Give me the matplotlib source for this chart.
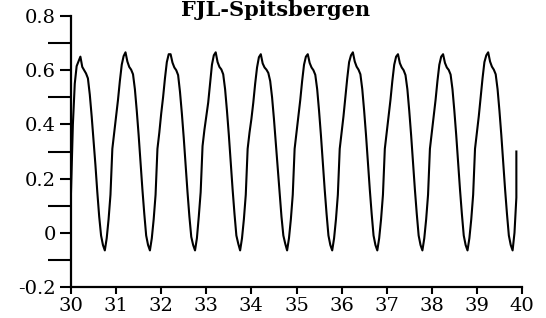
import numpy as np
import matplotlib
matplotlib.use("Agg")
import matplotlib.pyplot as plt
from matplotlib.ticker import FixedLocator

title = "FJL-Spitsbergen"

# hourly values, one list per day (day 30 .. day 39)
day30 = [0.15, 0.40, 0.55, 0.615, 0.632, 0.650, 0.612, 0.600, 0.588, 0.570, 0.510, 0.430,
         0.340, 0.250, 0.150, 0.060, -0.010, -0.045, -0.065, -0.020, 0.050, 0.140, 0.310, 0.370]
day31 = [0.43, 0.49, 0.56, 0.62, 0.652, 0.666, 0.632, 0.612, 0.602, 0.585, 0.53, 0.45,
         0.36, 0.26, 0.16, 0.07, -0.01, -0.045, -0.065, -0.02, 0.05, 0.14, 0.31, 0.37]
day32 = [0.44, 0.50, 0.57, 0.63, 0.659, 0.659, 0.628, 0.610, 0.600, 0.582, 0.52, 0.44,
         0.35, 0.25, 0.15, 0.06, -0.015, -0.045, -0.065, -0.02, 0.06, 0.15, 0.32, 0.38]
day33 = [0.43, 0.48, 0.55, 0.62, 0.655, 0.666, 0.630, 0.612, 0.603, 0.585, 0.53, 0.45,
         0.36, 0.26, 0.16, 0.07, -0.01, -0.04, -0.065, -0.02, 0.05, 0.14, 0.31, 0.37]
day34 = [0.42, 0.48, 0.55, 0.61, 0.648, 0.659, 0.625, 0.610, 0.602, 0.590, 0.560, 0.50,
         0.42, 0.33, 0.24, 0.15, 0.06, -0.01, -0.04, -0.065, -0.02, 0.05, 0.14, 0.31]
day35 = [0.37, 0.43, 0.49, 0.56, 0.62, 0.650, 0.659, 0.627, 0.610, 0.600, 0.583, 0.53,
         0.45, 0.36, 0.26, 0.16, 0.07, -0.01, -0.045, -0.065, -0.02, 0.05, 0.14, 0.31]
day36 = [0.37, 0.43, 0.50, 0.57, 0.63, 0.655, 0.666, 0.632, 0.613, 0.602, 0.585, 0.53,
         0.45, 0.36, 0.26, 0.16, 0.07, -0.01, -0.045, -0.065, -0.02, 0.05, 0.14, 0.31]
day37 = [0.37, 0.43, 0.49, 0.56, 0.62, 0.650, 0.659, 0.626, 0.610, 0.600, 0.582, 0.53,
         0.45, 0.36, 0.26, 0.16, 0.07, -0.01, -0.045, -0.065, -0.02, 0.05, 0.14, 0.31]
day38 = [0.37, 0.43, 0.49, 0.56, 0.62, 0.650, 0.659, 0.627, 0.610, 0.601, 0.584, 0.53,
         0.45, 0.36, 0.26, 0.16, 0.07, -0.01, -0.045, -0.065, -0.02, 0.05, 0.14, 0.31]
day39 = [0.37, 0.43, 0.50, 0.57, 0.63, 0.655, 0.666, 0.632, 0.613, 0.602, 0.585, 0.53,
         0.45, 0.36, 0.26, 0.16, 0.07, -0.01, -0.045, -0.065, 0.00, 0.13]
final_jump = [0.30]   # last sample drawn at the same time as the previous one

start_day = 30
samples_per_day = 24

x_ticks = [30, 31, 32, 33, 34, 35, 36, 37, 38, 39, 40]
x_tick_labels = ["30", "31", "32", "33", "34", "35", "36", "37", "38", "39", "40"]
y_ticks = [-0.2, 0.0, 0.2, 0.4, 0.6, 0.8]
y_tick_labels = ["-0.2", "0", "0.2", "0.4", "0.6", "0.8"]
y_minor_ticks = [-0.1, 0.1, 0.3, 0.5, 0.7]

values = day30 + day31 + day32 + day33 + day34 + day35 + day36 + day37 + day38 + day39
times = start_day + np.arange(len(values)) / samples_per_day
times = np.append(times, [times[-1]] * len(final_jump))
values = values + final_jump

fig = plt.figure(figsize=(5.46, 3.18), dpi=100)
ax = fig.add_axes([71 / 546, 31 / 318, 451 / 546, 271 / 318])

ax.plot(times, values, color="black", lw=1.5, solid_joinstyle="round")

ax.set_xlim(30, 40)
ax.set_ylim(-0.2, 0.8)
for s in ("top", "right"):
    ax.spines[s].set_visible(False)
for s in ("left", "bottom"):
    ax.spines[s].set_linewidth(1.6)

tick_font = {"family": "DejaVu Serif", "size": 14}
ax.xaxis.set_major_locator(FixedLocator(x_ticks))
ax.set_xticklabels(x_tick_labels, fontdict=tick_font)
ax.yaxis.set_major_locator(FixedLocator(y_ticks))
ax.set_yticklabels(y_tick_labels, fontdict=tick_font)
ax.yaxis.set_minor_locator(FixedLocator(y_minor_ticks))

ax.tick_params(axis="x", which="major", direction="out", length=5, width=1.5, pad=2)
ax.tick_params(axis="y", which="major", direction="out", length=8, width=1.5, pad=3)
ax.tick_params(axis="y", which="minor", direction="out", length=16.5, width=1.5)

fig.text(0.505, (318 - 16) / 318, title, ha="center", va="baseline",
         family="DejaVu Serif", weight="bold", size=15)

fig.savefig("out.png", dpi=100, facecolor="white")
